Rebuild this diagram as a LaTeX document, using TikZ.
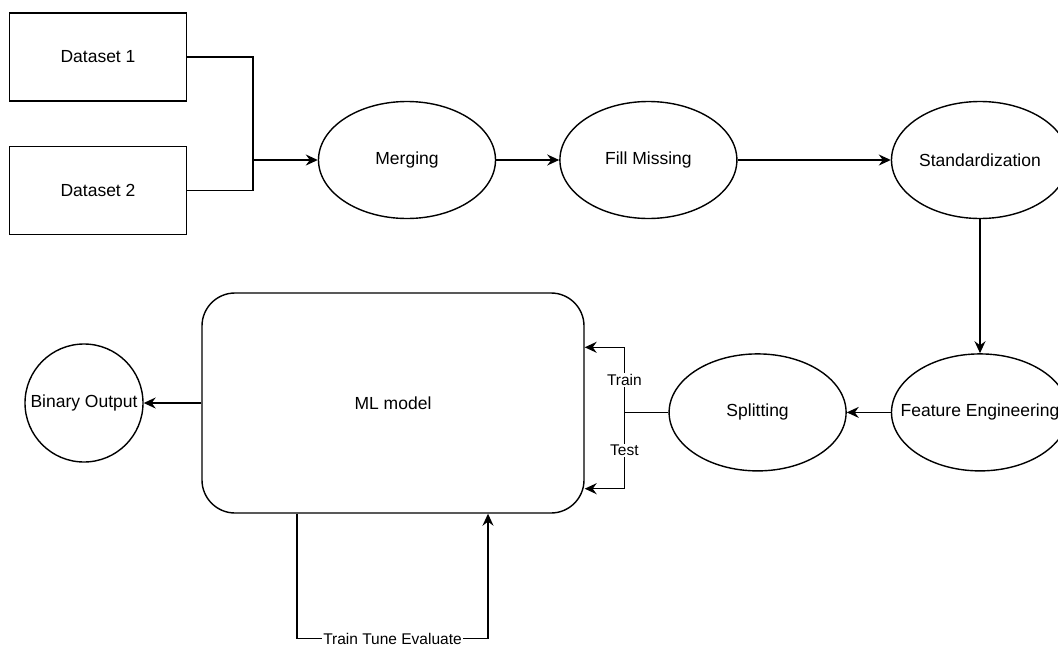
\documentclass[tikz,border=0pt]{standalone}
\usepackage{fontspec}
\setmainfont{Liberation Sans}
\usetikzlibrary{positioning}
\usetikzlibrary{arrows.meta}
\usetikzlibrary{shapes.geometric}
\tikzset{
   linePlain/.style={draw=black, line width=1.4pt},
   lineWithArrow/.style={draw=black, line width=1.4pt, -{Stealth[length=12pt,width=11pt,inset=4pt]}},
   dataBox/.style={draw, line width=1.4pt, minimum width=177pt, minimum height=88pt, inner sep=0pt},
   stageEllipse/.style={draw, ellipse, line width=1.4pt, minimum width=177pt, minimum height=117pt, inner xsep=-20pt, inner ysep=0pt},
   modelBox/.style={draw, line width=1.4pt, rounded corners=33pt, minimum width=382pt, minimum height=220pt, inner sep=0pt},
   outputCircle/.style={draw, circle, line width=1.4pt, minimum size=118pt, inner sep=-10pt},
   edgeLabel/.style={fill=white, inner sep=1.5pt, font=\fontsize{15.5}{18}\selectfont},
}

\begin{document}
\begin{tikzpicture}[x=1pt,y=-1pt,font=\fontsize{17.5}{21}\selectfont]
  \useasboundingbox[fill=white] (0,0) rectangle (1058,648);
  %
  \node[dataBox] (datasetOne) at (98,57) {Dataset 1};
  \node[dataBox, below=44pt of datasetOne] (datasetTwo) {Dataset 2};
  \coordinate (mergeJoint) at (253,160);
  %
  \node[stageEllipse] (merging) at (407,160) {Merging};
  \node[stageEllipse, right=63pt of merging] (fillMissing) {Fill Missing};
  \node[stageEllipse] (standardization) at (980,160) {Standardization};
  \node[stageEllipse, below=134pt of standardization] (featureEngineering) {Feature Engineering};
  \node[stageEllipse, left=44pt of featureEngineering] (splitting) {Splitting};
  %
  \node[modelBox] (mlModel) at (393,403) {ML model};
  \node[outputCircle] (binaryOutput) at (84,403) {Binary Output};
  %
  \draw[linePlain] (datasetOne.east) -| (mergeJoint);
  \draw[linePlain] (datasetTwo.east) -| (mergeJoint);
  \draw[lineWithArrow] (mergeJoint) -- (merging.west);
  \draw[lineWithArrow] (merging) -- (fillMissing);
  \draw[lineWithArrow] (fillMissing) -- (standardization);
  \draw[lineWithArrow] (standardization) -- (featureEngineering);
  \draw[lineWithArrow] (featureEngineering) -- (splitting);
  %
  % split goes to the model twice
  %
  \coordinate[left=44pt of splitting.west] (splitJoint);
  \coordinate[below=55pt of mlModel.north east] (trainEntry);
  \coordinate[above=25pt of mlModel.south east] (testEntry);
  \draw[linePlain] (splitting.west) -- (splitJoint);
  \draw[lineWithArrow] (splitJoint) |- node[edgeLabel, pos=0.25] {Train} (trainEntry);
  \draw[lineWithArrow] (splitJoint) |- node[edgeLabel, pos=0.25] {Test} (testEntry);
  %
  \draw[lineWithArrow] (mlModel.west) -- (binaryOutput);
  %
  \coordinate (loopStart) at ([xshift=-96pt]mlModel.south);
  \coordinate (loopEnd) at ([xshift=95pt]mlModel.south);
  \draw[lineWithArrow] (loopStart) -- ++(0,125) -| node[edgeLabel, pos=0.25] {Train Tune Evaluate} (loopEnd);
\end{tikzpicture}
\end{document}
